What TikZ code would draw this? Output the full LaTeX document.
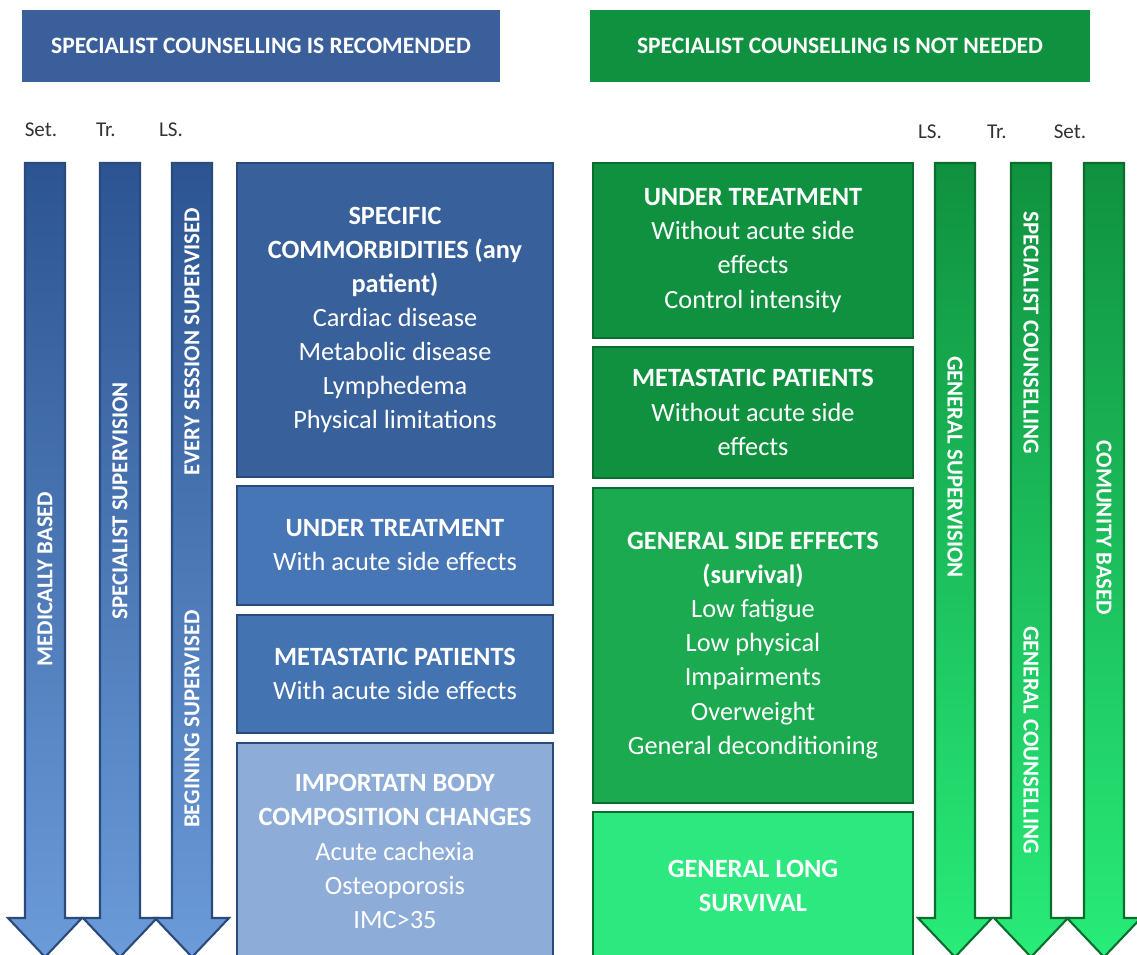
\documentclass[tikz,border=0pt]{standalone}
\usepackage{fontspec}
\setmainfont{Carlito}
\definecolor{bluebar}{HTML}{3A5F9A}
\definecolor{blueedge}{HTML}{2B4A7C}
\definecolor{blueone}{HTML}{38609A}
\definecolor{bluetwo}{HTML}{4676B6}
\definecolor{bluethree}{HTML}{4373B1}
\definecolor{bluefour}{HTML}{8DADD8}
\definecolor{bluetop}{HTML}{2C5492}
\definecolor{bluebottom}{HTML}{6C9BD9}
\definecolor{greenbar}{HTML}{10913F}
\definecolor{greenedge}{HTML}{0B6E2F}
\definecolor{greenthree}{HTML}{1BAA50}
\definecolor{greenfour}{HTML}{2DE87F}
\definecolor{greenbottom}{HTML}{28EC79}
\newcommand\colarrow[2]{
  \draw[#2] ({#1-20},163) -- ({#1+20},163) -- ({#1+20},918) -- ({#1+37},918)
    -- (#1,957) -- ({#1-37},918) -- ({#1-20},918) -- cycle;
}

\begin{document}
\begin{tikzpicture}[x=0.02cm, y=-0.02cm,
  bluearrow/.style = {draw=blueedge, line width=1.2pt, top color=bluetop, bottom color=bluebottom},
  greenarrow/.style = {draw=greenedge, line width=1.2pt, top color=greenbar, bottom color=greenbottom},
  banner/.style = {minimum height=1.44cm, text=white, font=\bfseries\fontsize{13.4}{15}\selectfont},
  box/.style = {draw, line width=1pt, align=center, text=white, font=\fontsize{15}{19.4}\selectfont},
  lbox/.style = {box, draw=blueedge, minimum width=6.32cm},
  rbox/.style = {box, draw=greenedge, minimum width=6.4cm},
  tag/.style = {text=black!80, font=\fontsize{12}{14}\selectfont},
  lane/.style = {text=white, font=\bfseries\fontsize{13}{14}\selectfont}]
\useasboundingbox[fill=white] (0,0) rectangle (1137,955);

\node[banner, fill=bluebar, minimum width=9.56cm] (recom) at (261,46) {SPECIALIST COUNSELLING IS RECOMENDED};
\node[banner, fill=greenbar, minimum width=10cm] (notneed) at (840,46) {SPECIALIST COUNSELLING IS NOT NEEDED};

\node[tag] (lset) at (41,130) {Set.};
\node[tag] (ltr) at (106,130) {Tr.};
\node[tag] (lls) at (171,130) {LS.};
\node[tag] (rls) at (930,132) {LS.};
\node[tag] (rtr) at (997,132) {Tr.};
\node[tag] (rset) at (1070,132) {Set.};

% arrows
\colarrow{45}{bluearrow}
\colarrow{120}{bluearrow}
\colarrow{192}{bluearrow}
\colarrow{955}{greenarrow}
\colarrow{1031}{greenarrow}
\colarrow{1104}{greenarrow}

\node[lane, rotate=90] (medic) at (45,579) {MEDICALLY BASED};
\node[lane, rotate=90] (specsup) at (120,501) {SPECIALIST SUPERVISION};
\node[lane, rotate=90] (every) at (192,342) {EVERY SESSION SUPERVISED};
\node[lane, rotate=90] (begin) at (192,719) {BEGINING SUPERVISED};
\node[lane, rotate=-90] (gensup) at (955,467) {GENERAL SUPERVISION};
\node[lane, rotate=-90] (speccoun) at (1031,333) {SPECIALIST COUNSELLING};
\node[lane, rotate=-90] (gencoun) at (1031,740) {GENERAL COUNSELLING};
\node[lane, rotate=-90] (comun) at (1104,528) {COMUNITY BASED};

% left column
\node[lbox, fill=blueone, minimum height=6.28cm] (comorb) at (395,320)
  {\textbf{SPECIFIC}\\ \textbf{COMMORBIDITIES (any}\\ \textbf{patient)}\\ Cardiac disease\\ Metabolic disease\\ Lymphedema\\ Physical limitations};
\node[lbox, fill=bluetwo, minimum height=2.38cm] (ltreat) at (395,545.5)
  {\textbf{UNDER TREATMENT}\\ With acute side effects};
\node[lbox, fill=bluethree, minimum height=2.36cm] (lmeta) at (395,674)
  {\textbf{METASTATIC PATIENTS}\\ With acute side effects};
\node[lbox, fill=bluefour, minimum height=4.34cm] (body) at (395,851.5)
  {\textbf{IMPORTATN BODY}\\ \textbf{COMPOSITION CHANGES}\\ Acute cachexia\\ Osteoporosis\\ IMC>35};

% right column
\node[rbox, fill=greenbar, minimum height=3.5cm] (rtreat) at (753,250.5)
  {\textbf{UNDER TREATMENT}\\ Without acute side\\ effects\\ Control intensity};
\node[rbox, fill=greenbar, minimum height=2.62cm] (rmeta) at (753,412.5)
  {\textbf{METASTATIC PATIENTS}\\ Without acute side\\ effects};
\node[rbox, fill=greenthree, minimum height=6.3cm] (side) at (753,645.5)
  {\textbf{GENERAL SIDE EFFECTS}\\ \textbf{(survival)}\\ Low fatigue\\ Low physical\\ Impairments\\ Overweight\\ General deconditioning};
\node[rbox, fill=greenfour, minimum height=2.96cm] (longsurv) at (753,886)
  {\textbf{GENERAL LONG}\\ \textbf{SURVIVAL}};
\end{tikzpicture}
\end{document}
